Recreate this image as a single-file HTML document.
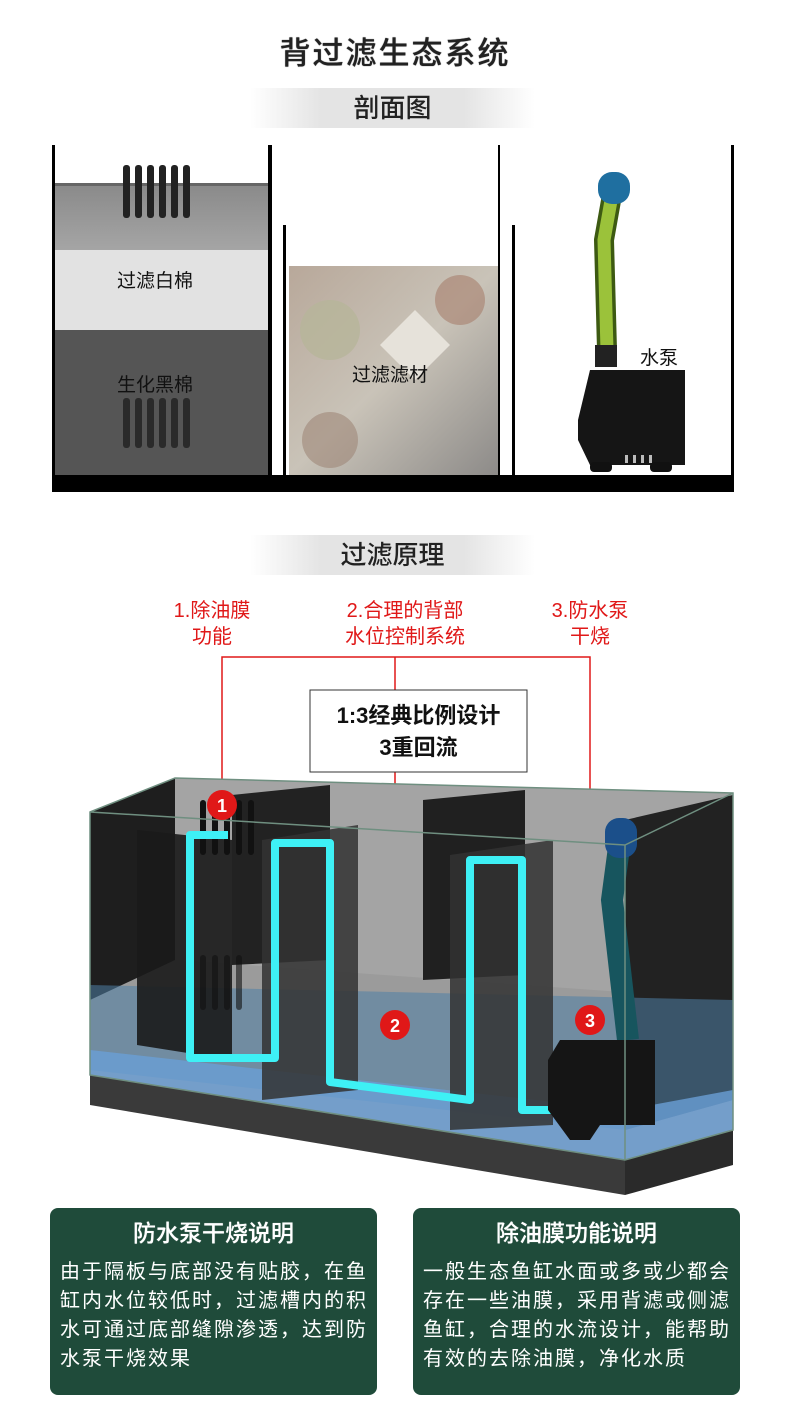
<!DOCTYPE html>
<html><head><meta charset="utf-8"><style>
body{margin:0;background:#fff;width:790px;height:1417px;overflow:hidden;font-family:"Liberation Sans","Noto Sans CJK SC",sans-serif;position:relative}
.abs{position:absolute}
.ban{position:absolute;left:250px;width:285px;height:40px;background:linear-gradient(90deg,#fff,#e4e4e4 25%,#e4e4e4 75%,#fff);text-align:center;line-height:40px;font-size:26px;color:#222;font-weight:500}
.card{position:absolute;top:1208px;width:327px;height:187px;background:#1f4b3a;border-radius:8px;color:#fff}
.card h3{margin:0;padding-top:8px;text-align:center;font-size:23px;font-weight:500;line-height:34px;text-shadow:0 0 0.6px #fff}
.card p{margin:8px 0 0 10px;font-size:20px;letter-spacing:2px;line-height:29px;white-space:nowrap}
.red{position:absolute;color:#e01818;font-size:20px;line-height:26px;text-align:center}
</style></head><body>
<div class="abs" style="left:0;width:790px;top:28px;text-align:center;font-size:31px;color:#222;letter-spacing:2px;font-weight:500;text-shadow:0 0 0.8px #222">背过滤生态系统</div>
<div class="ban" style="top:88px">剖面图</div>
<svg class="abs" style="left:0;top:0" width="790" height="1417">
<defs>
<linearGradient id="g1" x1="0" y1="0" x2="0" y2="1"><stop offset="0" stop-color="#8a8a8a"/><stop offset="1" stop-color="#a5a5a5"/></linearGradient>
<linearGradient id="peb" x1="0" y1="0" x2="1" y2="1"><stop offset="0" stop-color="#b8a89a"/><stop offset=".5" stop-color="#c9c3b8"/><stop offset="1" stop-color="#8c8a88"/></linearGradient>
</defs>
<rect x="55" y="185" width="213" height="65" fill="url(#g1)"/>
<rect x="55" y="183" width="213" height="3" fill="#666"/>
<rect x="55" y="250" width="213" height="80" fill="#e2e2e2"/>
<rect x="55" y="330" width="213" height="145" fill="#555"/>
<g fill="#222"><rect x="123" y="165" width="7" height="53" rx="3"/><rect x="135" y="165" width="7" height="53" rx="3"/><rect x="147" y="165" width="7" height="53" rx="3"/><rect x="159" y="165" width="7" height="53" rx="3"/><rect x="171" y="165" width="7" height="53" rx="3"/><rect x="183" y="165" width="7" height="53" rx="3"/></g>
<g fill="#2a2a2a"><rect x="123" y="398" width="7" height="50" rx="3"/><rect x="135" y="398" width="7" height="50" rx="3"/><rect x="147" y="398" width="7" height="50" rx="3"/><rect x="159" y="398" width="7" height="50" rx="3"/><rect x="171" y="398" width="7" height="50" rx="3"/><rect x="183" y="398" width="7" height="50" rx="3"/></g>
<rect x="52" y="145" width="3" height="347" fill="#000"/>
<rect x="268" y="145" width="4" height="330" fill="#000"/>
<rect x="283" y="225" width="3" height="250" fill="#000"/>
<rect x="289" y="266" width="211" height="209" fill="url(#peb)"/>
<circle cx="330" cy="330" r="30" fill="#b7b59a" opacity=".8"/><circle cx="460" cy="300" r="25" fill="#a67e6c" opacity=".6"/><circle cx="330" cy="440" r="28" fill="#9e8778" opacity=".6"/><polygon points="415,310 450,345 415,380 380,345" fill="#e6e2da"/>
<rect x="498" y="145" width="2" height="330" fill="#000"/>
<rect x="512" y="225" width="3" height="250" fill="#000"/>
<rect x="731" y="145" width="3" height="347" fill="#000"/>
<rect x="52" y="475" width="682" height="17" fill="#000"/>
<path d="M612,195 L604,240 L607,350" stroke="#3d5a12" stroke-width="20" fill="none"/>
<path d="M612,195 L604,240 L607,350" stroke="#9bc23a" stroke-width="13" fill="none"/>
<rect x="598" y="172" width="32" height="32" rx="14" fill="#1f6fa0"/>
<rect x="595" y="345" width="22" height="22" fill="#222"/>
<path d="M590,370 H685 V465 H590 L578,440 V420 Z" fill="#151515"/>
<rect x="590" y="462" width="22" height="10" rx="4" fill="#111"/><rect x="650" y="462" width="22" height="10" rx="4" fill="#111"/>
<g fill="#bbb"><rect x="625" y="455" width="3" height="8"/><rect x="633" y="455" width="3" height="8"/><rect x="641" y="455" width="3" height="8"/><rect x="649" y="455" width="3" height="8"/></g>
<g stroke="#e01818" stroke-width="1.5" fill="none">
<path d="M222,805 V657 H590 V1020"/><path d="M395,657 V690"/><path d="M395,772 V1025"/>
</g>
<rect x="310" y="690" width="217" height="82" fill="#fff" stroke="#333" stroke-width="1"/>
<polygon points="90,812 175,778 733,793 733,1130 625,1160 90,1075" fill="#9b9b9b"/>
<polygon points="175,778 733,793 733,1000 175,960" fill="#a4a4a4"/>
<polygon points="90,812 175,778 175,960 90,1000" fill="#1e1e1e"/>
<polygon points="625,820 733,795 733,1100 625,1130" fill="#222"/>
<polygon points="232,795 330,785 330,960 232,965" fill="#222"/>
<polygon points="423,800 525,790 525,975 423,980" fill="#202020"/>
<polygon points="90,985 733,1000 733,1100 625,1130 90,1070" fill="#4f7fa5" opacity=".55"/>
<polygon points="90,1050 625,1110 733,1090 733,1130 625,1160 90,1075" fill="#6a9fd6" opacity=".8"/>
<polygon points="137,830 232,840 232,1060 137,1045" fill="#1a1a1a" opacity=".9"/>
<polygon points="262,840 358,825 358,1090 262,1100" fill="#333" opacity=".85"/>
<polygon points="450,855 553,840 553,1125 450,1130" fill="#333" opacity=".85"/>
<g fill="#111"><rect x="200" y="800" width="6" height="55" rx="3"/><rect x="212" y="800" width="6" height="55" rx="3"/><rect x="224" y="800" width="6" height="55" rx="3"/><rect x="236" y="800" width="6" height="55" rx="3"/><rect x="248" y="800" width="6" height="55" rx="3"/>
<rect x="200" y="955" width="6" height="55" rx="3" opacity=".6"/><rect x="212" y="955" width="6" height="55" rx="3" opacity=".6"/><rect x="224" y="955" width="6" height="55" rx="3" opacity=".6"/><rect x="236" y="955" width="6" height="55" rx="3" opacity=".6"/></g>
<path d="M228,835 H190 V1058 H275 V843 H330 V1082 L470,1100 V860 H522 V1110 H575" stroke="#3ef0f5" stroke-width="8" fill="none" stroke-linejoin="round"/>
<path d="M620,840 L612,900 L628,1040" stroke="#17555e" stroke-width="22" fill="none"/>
<rect x="605" y="818" width="32" height="40" rx="14" fill="#1b4f8a"/>
<path d="M560,1040 H655 V1125 H600 L590,1140 H570 L548,1110 V1060 Z" fill="#151515"/>
<polygon points="90,1075 625,1160 625,1195 90,1105" fill="#3a3a3a"/>
<polygon points="625,1160 733,1130 733,1165 625,1195" fill="#2a2a2a"/>
<g stroke="#6f8f80" stroke-width="1.5" fill="none"><polygon points="90,812 175,778 733,793 733,1130 625,1160 90,1075"/><path d="M625,845 V1160 M90,812 L625,845 L733,793"/></g>
<g font-size="18" font-weight="bold" fill="#fff" text-anchor="middle">
<circle cx="222" cy="805" r="15" fill="#e01818"/><text x="222" y="812">1</text>
<circle cx="395" cy="1025" r="15" fill="#e01818"/><text x="395" y="1032">2</text>
<circle cx="590" cy="1020" r="15" fill="#e01818"/><text x="590" y="1027">3</text></g>
</svg>
<div class="abs" style="left:117px;top:266px;font-size:19px;color:#111">过滤白棉</div>
<div class="abs" style="left:117px;top:370px;font-size:19px;color:#111">生化黑棉</div>
<div class="abs" style="left:352px;top:360px;font-size:19px;color:#111">过滤滤材</div>
<div class="abs" style="left:640px;top:343px;font-size:19px;color:#111">水泵</div>
<div class="ban" style="top:535px">过滤原理</div>
<div class="red" style="left:152px;top:598px;width:120px">1.除油膜<br>功能</div>
<div class="red" style="left:305px;top:598px;width:200px">2.合理的背部<br>水位控制系统</div>
<div class="red" style="left:530px;top:598px;width:120px">3.防水泵<br>干烧</div>
<div class="abs" style="left:310px;top:700px;width:217px;text-align:center;font-size:22px;font-weight:bold;line-height:32px;color:#111">1:3经典比例设计<br>3重回流</div>
<div class="card" style="left:50px"><h3>防水泵干烧说明</h3><p>由于隔板与底部没有贴胶，在鱼<br>缸内水位较低时，过滤槽内的积<br>水可通过底部缝隙渗透，达到防<br>水泵干烧效果</p></div>
<div class="card" style="left:413px"><h3>除油膜功能说明</h3><p>一般生态鱼缸水面或多或少都会<br>存在一些油膜，采用背滤或侧滤<br>鱼缸，合理的水流设计，能帮助<br>有效的去除油膜，净化水质</p></div>
</body></html>
